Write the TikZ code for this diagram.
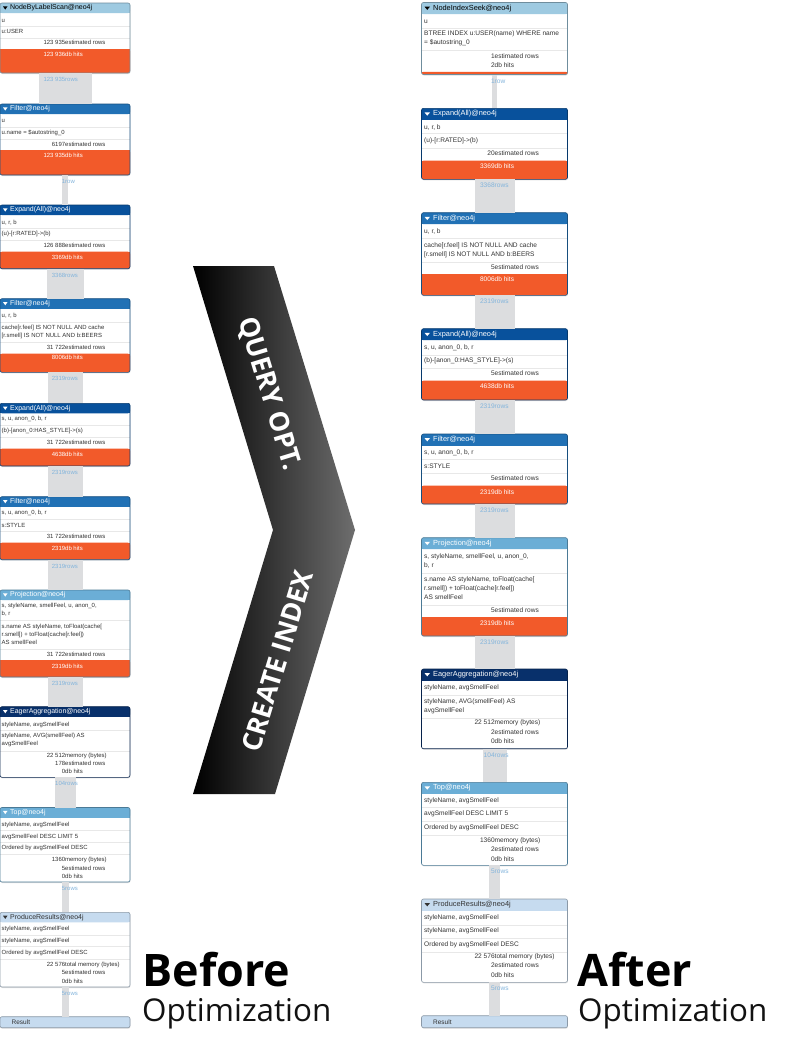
\documentclass[tikz,border=0pt]{standalone}
\usepackage{fontspec}
\setmainfont{Liberation Sans}
\newfontfamily\opensans{Open Sans}
\usetikzlibrary{calc}

\definecolor{hdrpale}{HTML}{9ECAE1}
\definecolor{hdrmid}{HTML}{2171B5}
\definecolor{hdrdeep}{HTML}{08519C}
\definecolor{hdrsky}{HTML}{6BAED6}
\definecolor{hdrnavy}{HTML}{08306B}
\definecolor{hdrice}{HTML}{C6DBEF}
\definecolor{hitorange}{HTML}{F25A2A}
\definecolor{bandgray}{HTML}{DCDDDF}
\definecolor{rowblue}{HTML}{82B4DC}
\definecolor{inktext}{HTML}{333333}

\def\bodyfont{\fontsize{6}{8}\selectfont}
\def\headfont{\fontsize{7}{8}\selectfont}

\tikzset{
  opbox/.style={rectangle, fill=white, rounded corners=2bp, inner sep=0pt, outer sep=0pt},
  boxshadow/.style={fill=black!12, rounded corners=2bp},
  headtext/.style={anchor=west, inner sep=0pt, font=\headfont},
  bodytext/.style={anchor=west, inner sep=0pt, align=left, text=inktext, font=\bodyfont},
  stattext/.style={anchor=west, inner sep=0pt, text=inktext, font=\bodyfont, text height=4.3bp, text depth=1.2bp},
  rowlabel/.style={anchor=west, inner sep=0pt, text=rowblue, font=\bodyfont, text height=4.3bp, text depth=1.2bp},
  rowsep/.style={draw=black!9, line width=1bp},
  hitfill/.style={fill=hitorange},
  bandfill/.style={fill=bandgray},
  bannertext/.style={text=white, inner sep=0pt, font=\opensans\bfseries\fontsize{27}{27}\selectfont},
  bigbold/.style={anchor=base west, inner sep=0pt, font=\opensans\bfseries\fontsize{45}{45}\selectfont},
  bigreg/.style={anchor=base west, inner sep=0pt, text=black!93, font=\opensans\fontsize{31.5}{31.5}\selectfont},
}

% operator box pieces, local to a scope shifted to the box's top left corner
\newcommand{\opframe}[2]{%
  \fill[boxshadow] (0.4,1) rectangle (\W+0.4,#2+1);
  \node[opbox, minimum width=\W bp, minimum height=#2 bp] (#1) at (\W/2,#2/2) {};}
\newcommand{\ophead}[3]{%
  \fill[#1, rounded corners=2bp] (0,0) rectangle (\W,\H);
  \fill[#1] (0,\H/2) rectangle (\W,\H);
  \fill[#2] (3,\H/2-1.6) -- (3+\tw,\H/2-1.6) -- (3+\tw/2,\H/2+1.6) -- cycle;
  \node[headtext, text=#2] at (\hx,\H/2) {#3};}
\newcommand{\sep}[1]{\draw[rowsep] (0,#1) -- (\W,#1);}
\newcommand{\txt}[2]{\node[bodytext] at (\tx,#1) {#2};}
\newcommand{\stat}[3]{\node[stattext] at (\W/2,#1) {\llap{#2}#3};}
\newcommand{\hits}[4]{%
  \fill[hitfill, rounded corners=2bp] (0,#1) rectangle (\W,#2);
  \fill[hitfill] (0,#1) rectangle (\W,#1+3);
  \node[stattext, text=white] at (\W/2,#3) {\llap{#4}db hits};}
\newcommand{\opborder}[2]{\draw[draw={#2!70!black}, rounded corners=2bp, line width=0.6bp] (#1.north west) rectangle (#1.south east);}
\newcommand{\resultbox}[1]{%
  \fill[boxshadow] (0.4,1) rectangle (\W+0.4,\H+1);
  \node[opbox, fill=hdrice, minimum width=\W bp, minimum height=\H bp] (#1) at (\W/2,\H/2) {};
  \node[headtext, text=inktext, font=\fontsize{6.5}{8}\selectfont] at (11.5,\H/2) {Result};
  \opborder{#1}{hdrice}}
\newcommand{\band}[5]{%
  \fill[bandfill] ($(#1.south)+(-#3,0)$) rectangle ($(#2.north)+(#3,0)$);
  \node[rowlabel] at ($(#1.south)+(0,7)$) {\llap{#4}#5};}

\begin{document}
\begin{tikzpicture}[x=1bp, y=-1bp]
			%%%%% START %%%%%
			\useasboundingbox (0,0) rectangle (799,1045);
			\fill[white] (0,0) rectangle (799,1045);
			
			%%%%% BEFORE %%%%%
			\begin{scope}
			\def\W{130}\def\H{10}\def\hx{10}\def\tw{4.5}\def\tx{1.5}
			
			\begin{scope}[shift={(0,3)}]
				\opframe{l1}{70}
				\ophead{hdrpale}{black}{NodeByLabelScan@neo4j}
				\txt{17.5}{u}
				\sep{23.5}
				\txt{28.5}{u:USER}
				\sep{35}
				\stat{40}{123 935}{estimated rows}
				\hits{46}{70}{51.5}{123 936}
				\opborder{l1}{hdrpale}
			\end{scope}
			
			\begin{scope}[shift={(0,104)}]
				\opframe{l2}{71}
				\ophead{hdrmid}{white}{Filter@neo4j}
				\txt{16.7}{u}
				\sep{23.3}
				\txt{28.7}{u.name = \$autostring\_0}
				\sep{35.3}
				\stat{41}{6197}{estimated rows}
				\hits{46}{71}{51.7}{123 935}
				\opborder{l2}{hdrmid}
			\end{scope}
			
			\begin{scope}[shift={(0,205)}]
				\opframe{l3}{63.7}
				\ophead{hdrdeep}{white}{Expand(All)@neo4j}
				\txt{17.3}{u, r, b}
				\sep{23.7}
				\txt{28.7}{(u)-[r:RATED]->(b)}
				\sep{35.3}
				\stat{40.7}{126 888}{estimated rows}
				\hits{46.7}{63.7}{52.7}{3369}
				\opborder{l3}{hdrdeep}
			\end{scope}
			
			\begin{scope}[shift={(0,298.7)}]
				\opframe{l4}{73.6}
				\ophead{hdrmid}{white}{Filter@neo4j}
				\txt{17.3}{u, r, b}
				\sep{23.6}
				\txt{32.8}{cache[r.feel] IS NOT NULL AND cache\\\relax[r.smell] IS NOT NULL AND b:BEERS}
				\sep{44}
				\stat{49}{31 722}{estimated rows}
				\hits{55}{73.6}{59.3}{8006}
				\opborder{l4}{hdrmid}
			\end{scope}
			
			\begin{scope}[shift={(0,403.3)}]
				\opframe{l5}{62.7}
				\ophead{hdrdeep}{white}{Expand(All)@neo4j}
				\txt{16}{s, u, anon\_0, b, r}
				\sep{22.4}
				\txt{27.7}{(b)-[anon\_0:HAS\_STYLE]->(s)}
				\sep{34}
				\stat{39.7}{31 722}{estimated rows}
				\hits{45.4}{62.7}{51.4}{4638}
				\opborder{l5}{hdrdeep}
			\end{scope}
			
			\begin{scope}[shift={(0,496.7)}]
				\opframe{l6}{63}
				\ophead{hdrmid}{white}{Filter@neo4j}
				\txt{16.3}{s, u, anon\_0, b, r}
				\sep{22.6}
				\txt{28.6}{s:STYLE}
				\sep{34.6}
				\stat{40.3}{31 722}{estimated rows}
				\hits{46}{63}{52}{2319}
				\opborder{l6}{hdrmid}
			\end{scope}
			
			\begin{scope}[shift={(0,590)}]
				\opframe{l7}{87}
				\ophead{hdrsky}{white}{Projection@neo4j}
				\txt{20}{s, styleName, smellFeel, u, anon\_0,\\ b, r}
				\sep{30.7}
				\txt{44.2}{s.name AS styleName, toFloat(cache[\\ r.smell]) + toFloat(cache[r.feel])\\ AS smellFeel}
				\sep{59.3}
				\stat{65}{31 722}{estimated rows}
				\hits{70}{87}{77}{2319}
				\opborder{l7}{hdrsky}
			\end{scope}
			
			\begin{scope}[shift={(0,706.7)}]
				\opframe{l8}{70.6}
				\ophead{hdrnavy}{white}{EagerAggregation@neo4j}
				\txt{18}{styleName, avgSmellFeel}
				\sep{23.6}
				\txt{33.6}{styleName, AVG(smellFeel) AS\\ avgSmellFeel}
				\sep{44.3}
				\stat{49}{22 512}{memory (bytes)}
				\stat{57.3}{178}{estimated rows}
				\stat{65.3}{0}{db hits}
				\opborder{l8}{hdrnavy}
			\end{scope}
			
			\begin{scope}[shift={(0,807.5)}]
				\opframe{l9}{74.5}
				\ophead{hdrsky}{white}{Top@neo4j}
				\txt{17}{styleName, avgSmellFeel}
				\sep{23.4}
				\txt{29.4}{avgSmellFeel DESC LIMIT 5}
				\sep{35}
				\txt{40.4}{Ordered by avgSmellFeel DESC}
				\sep{47.4}
				\stat{52.7}{1360}{memory (bytes)}
				\stat{61.7}{5}{estimated rows}
				\stat{69.7}{0}{db hits}
				\opborder{l9}{hdrsky}
			\end{scope}
			
			\begin{scope}[shift={(0,912.3)}]
				\opframe{l10}{74.7}
				\ophead{hdrice}{inktext}{ProduceResults@neo4j}
				\txt{16.7}{styleName, avgSmellFeel}
				\sep{22.7}
				\txt{28.7}{styleName, avgSmellFeel}
				\sep{34.4}
				\txt{40.7}{Ordered by avgSmellFeel DESC}
				\sep{46.7}
				\stat{52.4}{22 576}{total memory (bytes)}
				\stat{60.7}{5}{estimated rows}
				\stat{69.4}{0}{db hits}
				\opborder{l10}{hdrice}
			\end{scope}
			
			\begin{scope}[shift={(0,1016.7)}]
				\def\H{11}
				\resultbox{l11}
			\end{scope}
			
			\band{l1}{l2}{26.5}{123 935}{rows}
			\band{l2}{l3}{3}{1}{row}
			\band{l3}{l4}{18.5}{3368}{rows}
			\band{l4}{l5}{17.5}{2319}{rows}
			\band{l5}{l6}{17.5}{2319}{rows}
			\band{l6}{l7}{17.5}{2319}{rows}
			\band{l7}{l8}{17.5}{2319}{rows}
			\band{l8}{l9}{10.5}{104}{rows}
			\band{l9}{l10}{3.5}{5}{rows}
			\band{l10}{l11}{3.5}{5}{rows}
			\end{scope}
			
			%%%%% AFTER %%%%%
			\begin{scope}
			\def\W{146}\def\H{11.5}\def\hx{11.5}\def\tw{5.5}\def\tx{2.5}
			\def\bodyfont{\fontsize{6.6}{9}\selectfont}
			\def\headfont{\fontsize{7.4}{9}\selectfont}
			
			\begin{scope}[shift={(421.5,2.5)}]
				\opframe{r1}{72}
				\ophead{hdrpale}{black}{NodeIndexSeek@neo4j}
				\txt{19}{u}
				\sep{25.7}
				\txt{36.2}{BTREE INDEX u:USER(name) WHERE name\\ = \$autostring\_0}
				\sep{48.3}
				\stat{54}{1}{estimated rows}
				\stat{63.7}{2}{db hits}
				\fill[hitfill, rounded corners=1.5bp] (0,69.4) rectangle (\W,72);
				\fill[hitfill] (0,69.4) rectangle (\W,70.6);
				\opborder{r1}{hdrpale}
			\end{scope}
			
			\begin{scope}[shift={(421.5,108.3)}]
				\opframe{r2}{71}
				\ophead{hdrdeep}{white}{Expand(All)@neo4j}
				\txt{19}{u, r, b}
				\sep{25.4}
				\txt{32.7}{(u)-[r:RATED]->(b)}
				\sep{39.7}
				\stat{45.4}{20}{estimated rows}
				\hits{52.4}{71}{59}{3369}
				\opborder{r2}{hdrdeep}
			\end{scope}
			
			\begin{scope}[shift={(421.5,212.7)}]
				\opframe{r3}{82.6}
				\ophead{hdrmid}{white}{Filter@neo4j}
				\txt{18.6}{u, r, b}
				\sep{25.6}
				\txt{37.6}{cache[r.feel] IS NOT NULL AND cache\\\relax[r.smell] IS NOT NULL AND b:BEERS}
				\sep{50}
				\stat{55.3}{5}{estimated rows}
				\hits{61.3}{82.6}{67.6}{8006}
				\opborder{r3}{hdrmid}
			\end{scope}
			
			\begin{scope}[shift={(421.5,328.7)}]
				\opframe{r4}{71.3}
				\ophead{hdrdeep}{white}{Expand(All)@neo4j}
				\txt{19}{s, u, anon\_0, b, r}
				\sep{26.3}
				\txt{32}{(b)-[anon\_0:HAS\_STYLE]->(s)}
				\sep{39.6}
				\stat{45.6}{5}{estimated rows}
				\hits{52}{71.3}{58.6}{4638}
				\opborder{r4}{hdrdeep}
			\end{scope}
			
			\begin{scope}[shift={(421.5,434)}]
				\opframe{r5}{70}
				\ophead{hdrmid}{white}{Filter@neo4j}
				\txt{18.7}{s, u, anon\_0, b, r}
				\sep{25.3}
				\txt{32}{s:STYLE}
				\sep{39.3}
				\stat{45.3}{5}{estimated rows}
				\hits{51.7}{70}{58.7}{2319}
				\opborder{r5}{hdrmid}
			\end{scope}
			
			\begin{scope}[shift={(421.5,537.7)}]
				\opframe{r6}{98.3}
				\ophead{hdrsky}{white}{Projection@neo4j}
				\txt{23.6}{s, styleName, smellFeel, u, anon\_0,\\ b, r}
				\sep{35.6}
				\txt{50.6}{s.name AS styleName, toFloat(cache[\\ r.smell]) + toFloat(cache[r.feel])\\ AS smellFeel}
				\sep{67.3}
				\stat{73}{5}{estimated rows}
				\hits{79.6}{98.3}{86.6}{2319}
				\opborder{r6}{hdrsky}
			\end{scope}
			
			\begin{scope}[shift={(421.5,669)}]
				\opframe{r7}{79.7}
				\ophead{hdrnavy}{white}{EagerAggregation@neo4j}
				\txt{18.7}{styleName, avgSmellFeel}
				\sep{26.3}
				\txt{37.3}{styleName, AVG(smellFeel) AS\\ avgSmellFeel}
				\sep{49.7}
				\stat{54.3}{22 512}{memory (bytes)}
				\stat{64.3}{2}{estimated rows}
				\stat{73.3}{0}{db hits}
				\opborder{r7}{hdrnavy}
			\end{scope}
			
			\begin{scope}[shift={(421.5,782.3)}]
				\opframe{r8}{83}
				\ophead{hdrsky}{white}{Top@neo4j}
				\txt{18.4}{styleName, avgSmellFeel}
				\sep{25.4}
				\txt{31.7}{avgSmellFeel DESC LIMIT 5}
				\sep{39}
				\txt{45.4}{Ordered by avgSmellFeel DESC}
				\sep{53}
				\stat{58.7}{1360}{memory (bytes)}
				\stat{67.4}{2}{estimated rows}
				\stat{77.4}{0}{db hits}
				\opborder{r8}{hdrsky}
			\end{scope}
			
			\begin{scope}[shift={(421.5,899)}]
				\opframe{r9}{83.3}
				\ophead{hdrice}{inktext}{ProduceResults@neo4j}
				\txt{18.7}{styleName, avgSmellFeel}
				\sep{26}
				\txt{31.7}{styleName, avgSmellFeel}
				\sep{39}
				\txt{45.7}{Ordered by avgSmellFeel DESC}
				\sep{53.3}
				\stat{58}{22 576}{total memory (bytes)}
				\stat{67.3}{2}{estimated rows}
				\stat{77}{0}{db hits}
				\opborder{r9}{hdrice}
			\end{scope}
			
			\begin{scope}[shift={(421.5,1015.7)}]
				\def\H{12}
				\resultbox{r10}
			\end{scope}
			
			\band{r1}{r2}{2.5}{1}{row}
			\band{r2}{r3}{20}{3368}{rows}
			\band{r3}{r4}{20}{2319}{rows}
			\band{r4}{r5}{20}{2319}{rows}
			\band{r5}{r6}{20}{2319}{rows}
			\band{r6}{r7}{20}{2319}{rows}
			\band{r7}{r8}{12}{104}{rows}
			\band{r8}{r9}{5.5}{5}{rows}
			\band{r9}{r10}{5.5}{5}{rows}
			\end{scope}
			
			%%%%% CHEVRON %%%%%
			\shade[left color=black, right color=black!57] (193,266) -- (274,266) -- (355,530) -- (275,794) -- (193,794) -- (273,530) -- cycle;
			\node[bannertext, rotate=-73] (qopt) at (269,394) {QUERY OPT.};
			\node[bannertext, rotate=73] (cidx) at (277.5,661) {CREATE INDEX};
			
			\node[bigbold] (before) at (142.5,986) {Before};
			\node[bigreg] (beforeopt) at (142,1021) {Optimization};
			\node[bigbold] (after) at (577.5,986) {After};
			\node[bigreg] (afteropt) at (578,1021) {Optimization};
			
			%%%%% END %%%%%
\end{tikzpicture}
\end{document}
